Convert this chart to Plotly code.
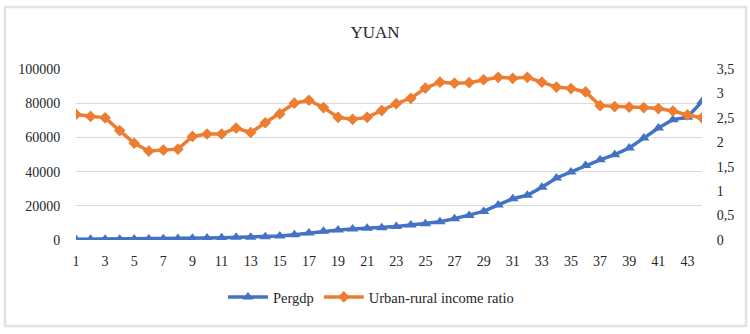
import plotly.graph_objects as go

# ---- data ----
periods = list(range(1, 45))
pergdp = [385, 423, 468, 497, 533, 588, 702, 866, 973, 1123,
          1378, 1536, 1663, 1912, 2334, 3027, 4081, 5091, 5898, 6481,
          6860, 7229, 7942, 8717, 9506, 10666, 12487, 14368, 16738, 20494,
          24100, 26180, 30808, 36277, 39771, 43497, 46912, 49922, 53783, 59592,
          65534, 70328, 71828, 80976]
income_ratio = [2.57, 2.53, 2.50, 2.24, 1.98, 1.82, 1.84, 1.86, 2.12, 2.17,
                2.17, 2.29, 2.20, 2.40, 2.58, 2.80, 2.86, 2.71, 2.51, 2.47,
                2.51, 2.65, 2.79, 2.90, 3.11, 3.23, 3.21, 3.22, 3.28, 3.33,
                3.31, 3.33, 3.23, 3.13, 3.10, 3.03, 2.75, 2.73, 2.72, 2.71,
                2.69, 2.64, 2.56, 2.50]
x_ticks = list(range(1, 44, 2))
left_ticks = [0, 20000, 40000, 60000, 80000, 100000]
right_ticks = [0, 0.5, 1, 1.5, 2, 2.5, 3, 3.5]
right_labels = ["0", "0,5", "1", "1,5", "2", "2,5", "3", "3,5"]

BLUE = "#4472C4"
ORANGE = "#ED7D31"
FONT = "Liberation Serif"
TXT = "#262626"

fig = go.Figure()
fig.add_trace(go.Scatter(
    x=periods, y=pergdp, name="Pergdp", mode="lines+markers",
    line=dict(color=BLUE, width=3.5),
    marker=dict(symbol="triangle-up", size=10, color=BLUE),
    yaxis="y"))
fig.add_trace(go.Scatter(
    x=periods, y=income_ratio, name="Urban-rural income ratio", mode="lines+markers",
    line=dict(color=ORANGE, width=3.5),
    marker=dict(symbol="diamond", size=9, color=ORANGE),
    yaxis="y2"))

L, R, T, B = 76, 48, 69, 94
W, H = 750, 334
pw, ph = W - L - R, H - T - B

def px(x):
    return (x - L) / pw

def py(y):
    return (H - B - y) / ph

fig.update_layout(
    width=W, height=H,
    margin=dict(l=L, r=R, t=T, b=B, pad=0),
    paper_bgcolor="white", plot_bgcolor="white",
    font=dict(family=FONT, size=14, color=TXT),
    title=dict(text="YUAN", x=0.5, xanchor="center", y=1 - 32 / H, yanchor="middle",
               font=dict(family=FONT, size=17, color=TXT)),
    showlegend=True,
    legend=dict(orientation="h", x=px(228) - 0.008, xanchor="left", y=py(297), yanchor="middle",
                font=dict(family=FONT, size=14.5, color=TXT),
                itemwidth=40, bgcolor="rgba(0,0,0,0)"),
    xaxis=dict(range=[1, 44], tickmode="array", tickvals=x_ticks,
               ticktext=[str(v) for v in x_ticks], showgrid=False, zeroline=False,
               showline=False, ticks="outside", ticklen=8, tickcolor="rgba(0,0,0,0)",
               tickfont=dict(family=FONT, size=14, color=TXT)),
    yaxis=dict(range=[0, 100000], tickmode="array", tickvals=left_ticks,
               ticktext=[str(v) for v in left_ticks],
               showgrid=True, gridcolor="#D9D9D9", gridwidth=1, zeroline=False,
               showline=False, ticks="outside", ticklen=12, tickcolor="rgba(0,0,0,0)",
               tickfont=dict(family=FONT, size=14, color=TXT)),
    yaxis2=dict(range=[0, 3.5], overlaying="y", side="right", tickmode="array",
                tickvals=right_ticks, ticktext=right_labels, showgrid=False,
                zeroline=False, showline=False, ticks="outside", ticklen=11,
                tickcolor="rgba(0,0,0,0)",
                tickfont=dict(family=FONT, size=14, color=TXT)),
)

# chart-area border
fig.add_shape(type="rect", xref="paper", yref="paper",
              x0=px(5), x1=px(746), y0=py(326), y1=py(7),
              line=dict(color="#E3E3E3", width=2.5), fillcolor="rgba(0,0,0,0)", layer="below")

fig.write_html("out.html")
